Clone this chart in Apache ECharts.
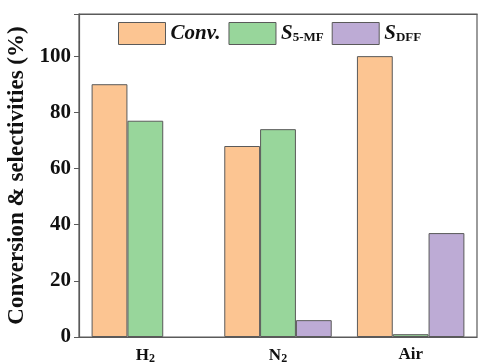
<!DOCTYPE html>
<html><head><meta charset="utf-8">
<script src="https://cdn.jsdelivr.net/npm/echarts@6/dist/echarts.min.js"></script>
<style>html,body{margin:0;padding:0;background:#fff}#c{width:478px;height:362px}</style>
</head><body><div id="c"></div>
<script>
const categories = ['H2', 'N2', 'Air'];
const conv = [90, 68, 100];
const s5mf = [77, 74, 1];
const sdff = [null, 6, 37];
const yTicks = [0, 20, 40, 60, 80, 100];

const FONT = 'Times New Roman, Liberation Serif, serif';
const chart = echarts.init(document.getElementById('c'));
const edge = '#5a5a5a';
const rich = {
  n: {fontFamily: FONT, fontWeight: 'bold', fontSize: 17, color: '#111'},
  sub: {fontFamily: FONT, fontWeight: 'bold', fontSize: 12, color: '#111', padding: [7, 0, 0, 0]},
  L: {fontFamily: FONT, fontWeight: 'bold', fontStyle: 'italic', fontSize: 21, color: '#111'},
  Ls: {fontFamily: FONT, fontWeight: 'bold', fontSize: 13, color: '#111', padding: [9, 0, 0, 0]}
};
chart.setOption({
  animation: false,
  grid: {left: 79, right: 1, top: 14, bottom: 25, show: true, borderColor: edge, borderWidth: 1.2,
         containLabel: false, outerBoundsMode: 'none'},
  legend: {
    top: 22, left: 118, padding: 0, itemWidth: 47, itemHeight: 22, itemGap: 8,
    icon: 'rect',
    itemStyle: {borderColor: edge, borderWidth: 1},
    textStyle: {rich: rich},
    formatter: function (name) {
      if (name === 'Conv.') return '{L|Conv.}';
      if (name === 'S5-MF') return '{L|S}{Ls|5-MF}';
      return '{L|S}{Ls|DFF}';
    },
    data: ['Conv.', 'S5-MF', 'SDFF']
  },
  xAxis: [{
    type: 'category', data: categories,
    axisLine: {lineStyle: {color: edge, width: 1.2}},
    axisTick: {show: false},
    axisLabel: {
      margin: 9,
      formatter: function (v) {
        if (v === 'H2') return '{n|H}{sub|2}';
        if (v === 'N2') return '{n|N}{sub|2}';
        return '{n|' + v + '}';
      },
      rich: rich
    }
  }, {
    type: 'category', data: categories, position: 'top',
    axisLine: {lineStyle: {color: edge, width: 1.2}},
    axisTick: {show: false}, axisLabel: {show: false}
  }],
  yAxis: {
    type: 'value', min: 0, max: 115, interval: 20,
    name: 'Conversion & selectivities (%)', nameLocation: 'middle', nameGap: 46,
    nameTextStyle: {fontFamily: FONT, fontWeight: 'bold', fontSize: 23, color: '#111'},
    axisLine: {show: true, lineStyle: {color: edge, width: 1.2}},
    axisTick: {show: true, length: 5, lineStyle: {color: edge}},
    splitLine: {show: false},
    axisLabel: {
      fontFamily: FONT, fontWeight: 'bold', fontSize: 21, color: '#111', margin: 8,
      formatter: function (v) { return yTicks.indexOf(v) >= 0 ? String(v) : ''; }
    }
  },
  series: [
    {name: 'Conv.', type: 'bar', data: conv, barGap: '0%', barCategoryGap: '19%',
     itemStyle: {color: '#FCC592', borderColor: edge, borderWidth: 1}},
    {name: 'S5-MF', type: 'bar', data: s5mf, barGap: '0%', barCategoryGap: '19%',
     itemStyle: {color: '#98D69B', borderColor: edge, borderWidth: 1}},
    {name: 'SDFF', type: 'bar', data: sdff, barGap: '0%', barCategoryGap: '19%',
     itemStyle: {color: '#BDABD5', borderColor: edge, borderWidth: 1}}
  ]
});
</script></body></html>
